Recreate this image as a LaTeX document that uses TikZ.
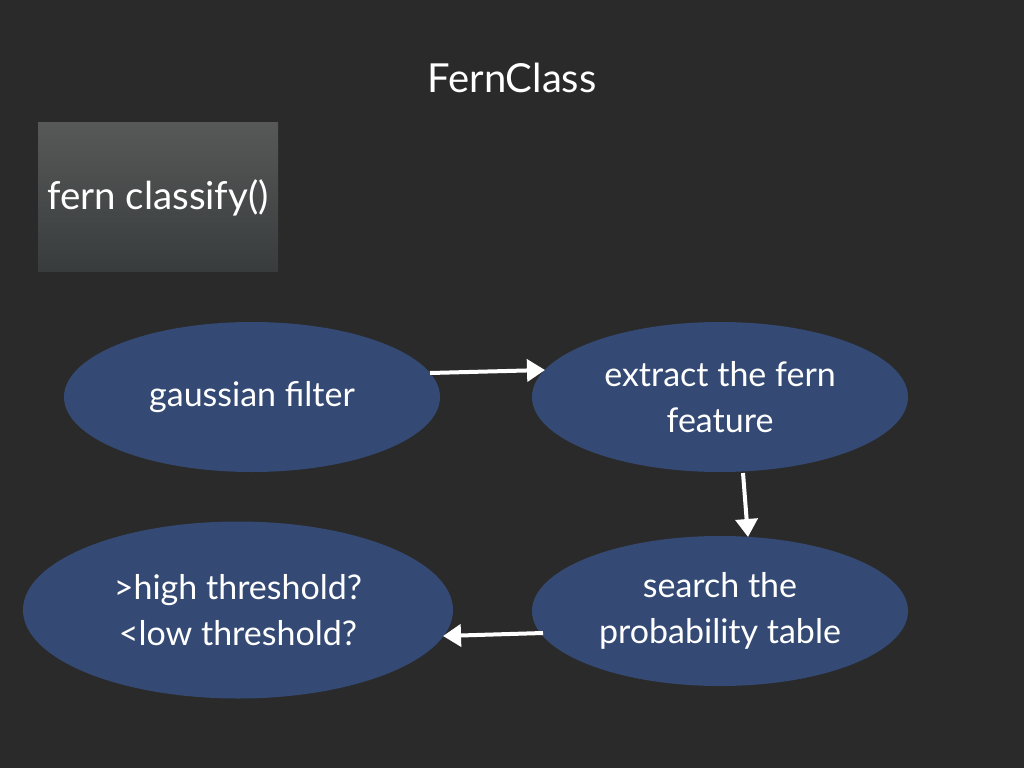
\documentclass[tikz,border=0pt]{standalone}
\usepackage{fontspec}
\setmainfont{Lato}
\usetikzlibrary{shapes.geometric,arrows.meta}
\definecolor{bg}{HTML}{2A2A2A}
\definecolor{ell}{HTML}{344A74}
\definecolor{boxtop}{HTML}{575959}
\definecolor{boxbot}{HTML}{393C3C}
\tikzset{
  oval/.style={ellipse, fill=ell, text=white, align=center, font=\fontsize{34}{46}\selectfont, inner sep=0pt},
  flow/.style={draw=white, line width=4pt, -{Triangle[length=18pt,width=22pt]}},
}
\begin{document}
\begin{tikzpicture}[x=1pt,y=-1pt]
\fill[bg] (0,0) rectangle (1024,768);
\useasboundingbox (0,0) rectangle (1024,768);
\node[text=white, font=\fontsize{40}{46}\selectfont] (title) at (512,78) {FernClass};
\shade[top color=boxtop, bottom color=boxbot] (38,122) rectangle (278,271);
\node[text=white, font=\fontsize{38.5}{46}\selectfont] (cls) at (158,198) {fern classify()};
\node[oval, minimum width=376pt, minimum height=150pt] (g) at (252,397) {gaussian filter};
\node[oval, minimum width=376pt, minimum height=150pt] (e) at (720,397) {extract the fern\\feature};
\node[oval, minimum width=376pt, minimum height=150pt] (s) at (720,611) {search the\\probability table};
\node[oval, minimum width=430pt, minimum height=177pt] (t) at (238,610) {>high threshold?\\<low threshold?};
\coordinate (a1) at (430,373);
\coordinate (a2) at (545,370);
\coordinate (b1) at (743,473);
\coordinate (b2) at (748,537);
\coordinate (c1) at (543,633);
\coordinate (c2) at (443,636);
\draw[flow] (a1) -- (a2);
\draw[flow] (b1) -- (b2);
\draw[flow] (c1) -- (c2);
\end{tikzpicture}
\end{document}
